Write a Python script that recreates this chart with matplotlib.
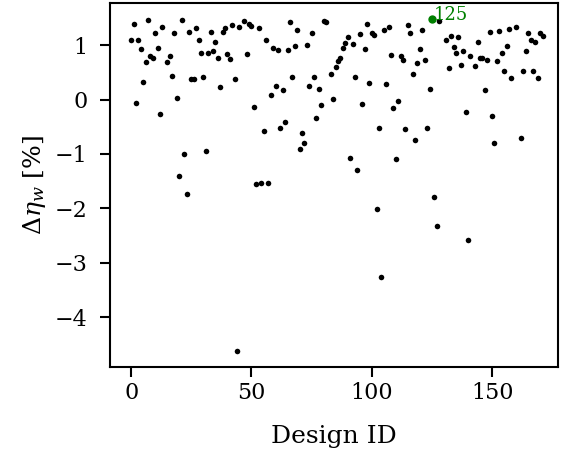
import matplotlib
matplotlib.use("Agg")
import matplotlib.pyplot as plt

design_id = [0, 1, 2, 3, 4, 5, 6, 7, 8, 9, 10, 11, 12, 13, 15, 16, 17, 18, 19, 20,
             21, 22, 23, 24, 25, 26, 27, 28, 29, 30, 31, 32, 33, 34, 35, 36, 37, 38, 39, 40,
             41, 42, 43, 44, 45, 47, 48, 49, 50, 51, 52, 53, 54, 55, 56, 57, 58, 59, 60, 61,
             62, 63, 64, 65, 66, 67, 68, 69, 70, 71, 72, 73, 74, 75, 76, 77, 78, 79, 80, 81,
             83, 84, 85, 86, 87, 88, 89, 90, 91, 92, 93, 94, 95, 96, 97, 98, 99, 100, 101, 102,
             103, 104, 105, 106, 107, 108, 109, 110, 111, 112, 113, 114, 115, 116, 117, 118, 119, 120, 121, 122,
             123, 124, 125, 126, 127, 128, 131, 132, 133, 134, 135, 136, 137, 138, 139, 140, 141, 143, 144, 145,
             146, 147, 148, 149, 150, 151, 152, 153, 154, 155, 156, 157, 158, 160, 162, 163, 164, 165, 166, 167,
             168, 169, 170, 171]
delta_eta = [1.10, 1.38, -0.06, 1.10, 0.92, 0.32, 0.69, 1.46, 0.80, 0.77, 1.23, 0.95, -0.26, 1.33, 0.69, 0.80, 0.44, 1.22, 0.02, -1.41,
             1.46, -1.00, -1.74, 1.24, 0.37, 0.38, 1.31, 1.09, 0.86, 0.41, -0.95, 0.85, 1.25, 0.89, 1.06, 0.77, 0.23, 1.24, 1.31, 0.83,
             0.74, 1.37, 0.37, -4.63, 1.33, 1.44, 0.83, 1.39, 1.35, -0.13, -1.55, 1.31, -1.53, -0.57, 1.10, -1.53, 0.08, 0.94, 0.24, 0.91,
             -0.52, 0.18, -0.42, 0.91, 1.42, 0.42, 0.98, 1.28, -0.90, -0.61, -0.79, 1.01, 0.24, 1.22, 0.41, -0.34, 0.20, -0.10, 1.45, 1.43,
             0.47, 0.01, 0.59, 0.71, 0.77, 0.95, 1.04, 1.15, -1.08, 1.02, 0.41, -1.29, 1.21, -0.09, 0.93, 1.38, 0.30, 1.23, 1.18, -2.01,
             -0.53, -3.27, 1.28, 0.28, 1.33, 0.82, -0.16, -1.10, -0.02, 0.80, 0.72, -0.55, 1.37, 1.22, 0.47, -0.74, 0.67, 0.93, 1.28, 0.73,
             -0.53, 0.19, 1.48, -1.79, -2.33, 1.45, 1.09, 0.58, 1.17, 0.96, 0.85, 1.14, 0.64, 0.89, -0.23, -2.58, 0.80, 0.61, 1.05, 0.77,
             0.77, 0.17, 0.73, 1.24, -0.30, -0.79, 0.71, 1.26, 0.86, 0.53, 0.98, 1.29, 0.39, 1.33, -0.71, 0.53, 0.90, 1.22, 1.10, 0.52,
             1.05, 0.40, 1.23, 1.17]

best_id = 125
best_val = delta_eta[design_id.index(best_id)]

plt.rcParams["font.family"] = "DejaVu Serif"
plt.rcParams["mathtext.fontset"] = "dejavuserif"

fig = plt.figure(figsize=(5.64, 4.53), dpi=100)
ax = fig.add_axes([0.1959, 0.1905, 0.7926, 0.8018])

others_x = [d for d in design_id if d != best_id]
others_y = [v for d, v in zip(design_id, delta_eta) if d != best_id]
ax.scatter(others_x, others_y, s=16, color="black", linewidths=0, zorder=2)
ax.scatter([best_id], [best_val], s=36, color="green", linewidths=0, zorder=3)
ax.annotate(str(best_id), (best_id, best_val), xytext=(1.5, -1), textcoords="offset points",
            color="green", fontsize=13, ha="left", va="baseline")

ax.set_xlim(-8.6, 177.2)
ax.set_ylim(-4.91, 1.765)
ax.set_xticks([0, 50, 100, 150])
ax.set_yticks([-4, -3, -2, -1, 0, 1])
ax.set_yticklabels(["\u22124", "\u22123", "\u22122", "\u22121", "0", "1"])
ax.tick_params(labelsize=16, length=7.5, width=1.5)
ax.tick_params(axis="y", pad=9)
for s in ax.spines.values():
    s.set_linewidth(1.5)
ax.set_xlabel("Design ID", fontsize=18, labelpad=15)
ax.set_ylabel(r"$\Delta\eta_w$ [%]", fontsize=18, labelpad=5)

fig.savefig("out.png", dpi=100)
